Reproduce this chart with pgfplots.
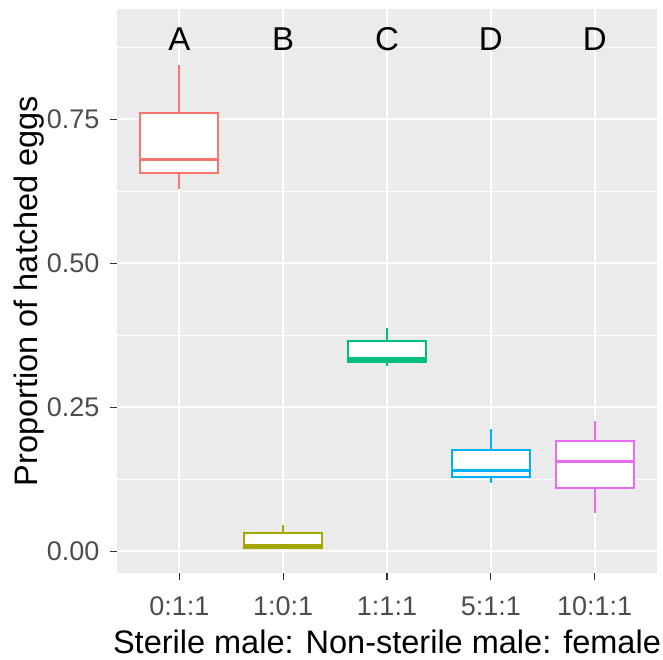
\documentclass[border=0pt]{standalone}
\usepackage{pgfplots}
\pgfplotsset{compat=1.18}
\usepgfplotslibrary{statistics}
\usepackage{fontspec}
\setmainfont{Liberation Sans}
\definecolor{panelbg}{HTML}{EBEBEB}
\definecolor{tickgray}{HTML}{4D4D4D}
\definecolor{tickmark}{HTML}{333333}
\definecolor{cA}{HTML}{F8766D}
\definecolor{cB}{HTML}{A3A500}
\definecolor{cC}{HTML}{00BF7D}
\definecolor{cD}{HTML}{00B0F6}
\definecolor{cE}{HTML}{E76BF3}
\begin{document}
\begin{tikzpicture}
\useasboundingbox (-117pt,-87pt) rectangle (546pt,573pt);
\begin{axis}[
  scale only axis,
  width=540pt, height=564pt,
  xmin=0.4, xmax=5.6,
  ymin=-0.038, ymax=0.942,
  axis background/.style={fill=panelbg},
  axis line style={draw=none},
  xtick={1,2,3,4,5},
  xticklabels={0:1:1,1:0:1,1:1:1,5:1:1,10:1:1},
  ytick={0,0.25,0.5,0.75},
  yticklabels={0.00,0.25,0.50,0.75},
  minor ytick={0.125,0.375,0.625,0.875},
  grid=both,
  major grid style={white, line width=2pt},
  minor grid style={white, line width=1pt},
  tick align=outside,
  major tick length=7pt,
  minor tick length=0pt,
  tick style={tickmark, line width=1.2pt},
  xtick pos=bottom, ytick pos=left,
  /pgf/number format/assume math mode=true,
  ticklabel style={font=\fontsize{27}{31}\selectfont, text=tickgray},
  yticklabel style={anchor=east, xshift=-7pt},
  xticklabel style={anchor=base, yshift=-35pt},
  xlabel={Sterile male: Non-sterile male: female},
  ylabel={Proportion of hatched eggs},
  label style={font=\fontsize{32.5}{36}\selectfont, text=black},
  xlabel style={at={(axis description cs:0.5,-0.142)}, anchor=base},
  ylabel style={at={(axis description cs:-0.148,0.5)}, anchor=base, rotate=0},
  boxplot/draw direction=y,
  boxplot/box extend=0.75,
  boxplot/whisker extend=0,
  boxplot/every box/.style={line width=1.9pt},
  boxplot/every whisker/.style={line width=2.2pt},
  boxplot/every median/.style={line width=3.2pt},
  clip=false,
]
\addplot[draw=cA, fill=white, solid,
  boxplot prepared={draw position=1, lower whisker=0.6285, lower quartile=0.6563, median=0.6806, upper quartile=0.7617, upper whisker=0.8445}] coordinates {};
\addplot[draw=cB, fill=white, solid,
  boxplot prepared={draw position=2, lower whisker=0.0035, lower quartile=0.0047, median=0.0104, upper quartile=0.0308, upper whisker=0.045}] coordinates {};
\addplot[draw=cC, fill=white, solid,
  boxplot prepared={draw position=3, lower whisker=0.321, lower quartile=0.328, median=0.334, upper quartile=0.365, upper whisker=0.3875}] coordinates {};
\addplot[draw=cD, fill=white, solid,
  boxplot prepared={draw position=4, lower whisker=0.1176, lower quartile=0.129, median=0.1395, upper quartile=0.1755, upper whisker=0.213}] coordinates {};
\addplot[draw=cE, fill=white, solid,
  boxplot prepared={draw position=5, lower whisker=0.0666, lower quartile=0.109, median=0.1564, upper quartile=0.1917, upper whisker=0.2259}] coordinates {};
\foreach \x/\t in {1/A,2/B,3/C,4/D,5/D}{
  \edef\temp{\noexpand\node[font=\noexpand\fontsize{33}{36}\noexpand\selectfont, text=black] at (axis cs:\x,0.89) {\t};}
  \temp
}
\end{axis}
\end{tikzpicture}
\end{document}
